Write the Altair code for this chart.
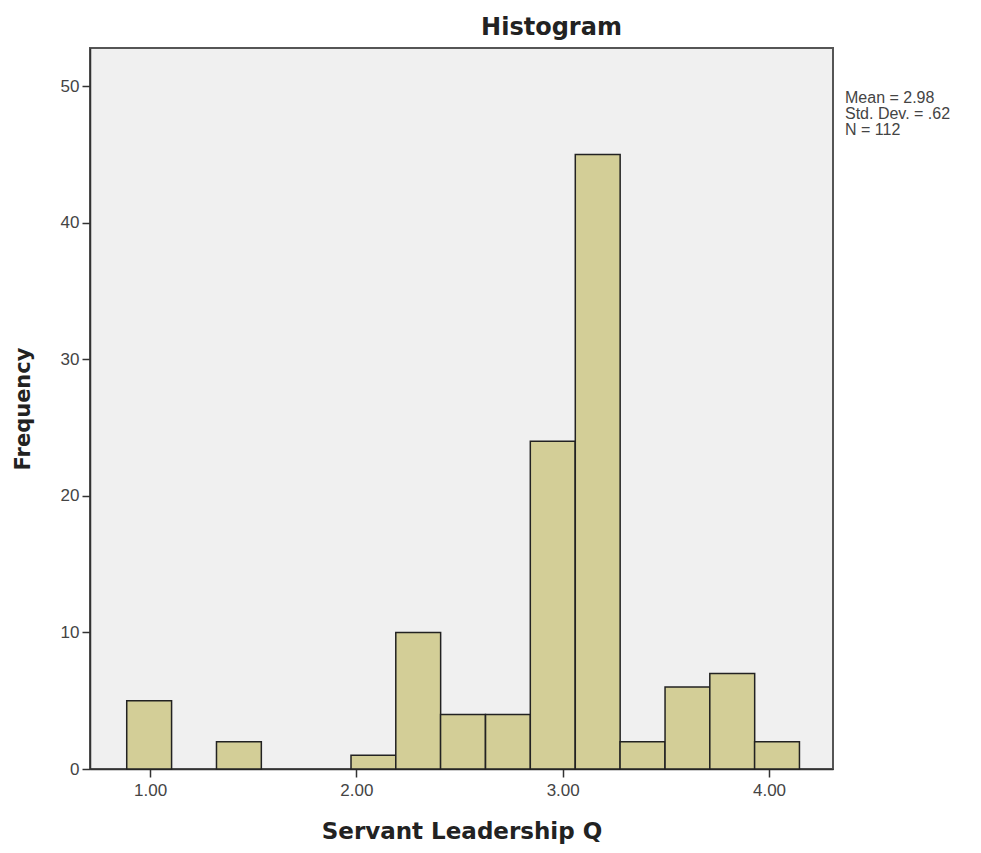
import altair as alt
import pandas as pd

bin_starts = [0.887, 1.322, 1.974, 2.191, 2.408, 2.626, 2.843, 3.061, 3.278, 3.496, 3.713, 3.930]
bin_width = 0.2174
counts = [5, 2, 1, 10, 4, 4, 24, 45, 2, 6, 7, 2]
x_ticks = [1, 2, 3, 4]
y_ticks = [0, 10, 20, 30, 40, 50]
stats_lines = ["Mean = 2.98", "Std. Dev. = .62", "N = 112"]

df = pd.DataFrame({
    "start": bin_starts,
    "end": [s + bin_width for s in bin_starts],
    "count": counts,
})

FONT = "Liberation Sans"
BFONT = "DejaVu Sans"

bars = alt.Chart(df).mark_bar(
    color="#D3CE97", stroke="#222222", strokeWidth=1.5
).encode(
    x=alt.X("start:Q",
            scale=alt.Scale(domain=[0.709, 4.31], nice=False, zero=False, padding=0),
            axis=alt.Axis(values=x_ticks, format=".2f", title="Servant Leadership Q",
                          grid=False, tickSize=8, labelFontSize=17, labelColor="#444444",
                          labelFont=FONT, titleFont=BFONT, titleFontSize=23,
                          titleFontWeight="bold", titleColor="#222222", titlePadding=22,
                          domainColor="#333333", tickColor="#333333", domainWidth=1.5,
                          tickWidth=1.5, labelPadding=5)),
    x2="end:Q",
    y=alt.Y("count:Q",
            scale=alt.Scale(domain=[0, 52.8], nice=False, padding=0),
            axis=alt.Axis(values=y_ticks, title="Frequency", grid=False, tickSize=8,
                          labelFontSize=17, labelColor="#444444", labelFont=FONT,
                          titleFont=BFONT, titleFontSize=21, titleFontWeight="bold",
                          titleColor="#222222", titlePadding=27,
                          domainColor="#333333", tickColor="#333333", domainWidth=1.5,
                          tickWidth=1.5, labelPadding=3)),
    y2=alt.datum(0),
)

stats = alt.layer(*[
    alt.Chart(pd.DataFrame({"line": [t]})).mark_text(
        align="left", baseline="middle", fontSize=16, font=FONT, color="#444444"
    ).encode(text="line:N", x=alt.value(755), y=alt.value(50 + 16 * k))
    for k, t in enumerate(stats_lines)
])

chart = alt.layer(bars, stats).properties(
    width=743, height=721,
    padding={"left": 82, "top": 40, "right": 140, "bottom": 80},
    autosize=alt.AutoSizeParams(type="none"),
    title=alt.TitleParams("Histogram", font=BFONT, fontSize=24, fontWeight="bold",
                          color="#222222", anchor="middle", frame="group", dx=90,
                          offset=8),
).configure(background="white").configure_view(
    fill="#F0F0F0", stroke="#555555", strokeWidth=2
)

chart.save("out.html", embed_options={"renderer": "svg", "actions": False})
